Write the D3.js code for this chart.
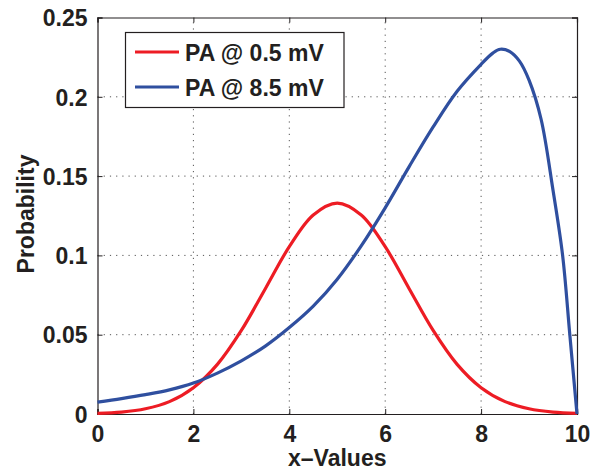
<!DOCTYPE html>
<html>
<head>
<meta charset="utf-8">
<script src="https://cdn.jsdelivr.net/npm/d3@7"></script>
<style>
  body { margin: 0; background: #fff; }
  text { font-family: "Liberation Sans", Arial, Helvetica, sans-serif; font-weight: bold; fill: #231f20; }
</style>
</head>
<body>
<svg id="chart" width="598" height="472"></svg>
<script>
// values
const redX = [0, 0.5, 1, 1.5, 2, 2.5, 3, 3.5, 4, 4.5, 5, 5.5, 6, 6.5, 7, 7.5, 8, 8.5, 9, 9.5, 10];
const redY = [0.0004, 0.0012, 0.0033, 0.0078, 0.0166, 0.0313, 0.0527, 0.079, 0.1055, 0.1255, 0.133,
              0.1255, 0.1055, 0.079, 0.0527, 0.0313, 0.0166, 0.0078, 0.0033, 0.0012, 0.0004];

const blueX = [0, 0.5, 1, 1.5, 2, 2.5, 3, 3.5, 4, 4.5, 5, 5.5, 6, 6.5, 7, 7.5, 8, 8.25, 8.4, 8.6, 8.8, 9, 9.25, 9.5, 9.7, 9.85, 10];
const blueY = [0.0075, 0.0097, 0.0122, 0.0152, 0.0195, 0.0258, 0.0335, 0.0428, 0.0545, 0.068, 0.085, 0.106, 0.13,
               0.156, 0.181, 0.2035, 0.2205, 0.2277, 0.2300, 0.2285, 0.2225, 0.2105, 0.186, 0.141, 0.10, 0.05, 0];

const xTicks = [0, 2, 4, 6, 8, 10];
const yTicks = [0, 0.05, 0.1, 0.15, 0.2, 0.25];
const yTickLabels = ["0", "0.05", "0.1", "0.15", "0.2", "0.25"];
const seriesNames = ["PA @ 0.5 mV", "PA @ 8.5 mV"];
const seriesColors = ["#ed1c24", "#2f4f9f"];

const plotL = 97.5, plotR = 577, plotT = 17.5, plotB = 414;
const svg = d3.select("#chart");

const x = d3.scaleLinear().domain([0, 10]).range([plotL, plotR]);
const y = d3.scaleLinear().domain([0, 0.25]).range([plotB, plotT]);

// grid
const grid = svg.append("g")
  .attr("stroke", "#555")
  .attr("stroke-width", 1)
  .attr("stroke-dasharray", "1.2,5");
grid.selectAll("line.gx").data(xTicks.slice(1, -1))
  .join("line")
  .attr("x1", d => x(d)).attr("x2", d => x(d))
  .attr("y1", plotB).attr("y2", plotT);
grid.selectAll("line.gy").data(yTicks.slice(1, -1))
  .join("line")
  .attr("x1", plotL).attr("x2", plotR)
  .attr("y1", d => y(d)).attr("y2", d => y(d));

// axes, ticks inside on all four sides (box)
const axB = svg.append("g").attr("transform", `translate(0,${plotB})`)
  .call(d3.axisBottom(x).tickValues(xTicks).tickSize(-5).tickPadding(12).tickFormat(d3.format("d")));
const axT = svg.append("g").attr("transform", `translate(0,${plotT})`)
  .call(d3.axisTop(x).tickValues(xTicks).tickSize(-5).tickFormat(""));
const axL = svg.append("g").attr("transform", `translate(${plotL},0)`)
  .call(d3.axisLeft(y).tickValues(yTicks).tickSize(-5).tickPadding(10).tickFormat((d, i) => yTickLabels[i]));
const axR = svg.append("g").attr("transform", `translate(${plotR},0)`)
  .call(d3.axisRight(y).tickValues(yTicks).tickSize(-5).tickFormat(""));

[axB, axT, axL, axR].forEach(a => {
  a.select(".domain").attr("stroke", "#231f20").attr("stroke-width", 1.2);
  a.selectAll(".tick line").attr("stroke", "#231f20").attr("stroke-width", 1);
  a.selectAll("text").style("font-size", "23px").style("font-weight", "bold")
    .attr("fill", "#231f20");
});
axB.selectAll("text").attr("dy", "0.71em");
axL.selectAll("text").attr("dy", "0.36em");

// curves
const line = d3.line().curve(d3.curveCatmullRom.alpha(0.5));
svg.append("path")
  .attr("d", line(redX.map((d, i) => [x(d), y(redY[i])])))
  .attr("fill", "none").attr("stroke", seriesColors[0]).attr("stroke-width", 3.2);
svg.append("path")
  .attr("d", line(blueX.map((d, i) => [x(d), y(blueY[i])])))
  .attr("fill", "none").attr("stroke", seriesColors[1]).attr("stroke-width", 3.2);

// axis labels
svg.append("text")
  .attr("x", (plotL + plotR) / 2).attr("y", 466)
  .attr("text-anchor", "middle")
  .style("font-size", "23px")
  .text("x\u2013Values");
svg.append("text")
  .attr("transform", "translate(34,214) rotate(-90)")
  .attr("text-anchor", "middle")
  .style("font-size", "23px")
  .text("Probability");

// legend
const lg = svg.append("g");
lg.append("rect")
  .attr("x", 125.5).attr("y", 32.5).attr("width", 218.5).attr("height", 75)
  .attr("fill", "#fff").attr("stroke", "#231f20").attr("stroke-width", 1.2);
seriesNames.forEach((name, i) => {
  const cy = 52 + i * 35;
  lg.append("line")
    .attr("x1", 135).attr("x2", 179).attr("y1", cy).attr("y2", cy)
    .attr("stroke", seriesColors[i]).attr("stroke-width", 3.2);
  lg.append("text")
    .attr("x", 185).attr("y", cy + 8.5)
    .style("font-size", "23px")
    .text(name);
});
</script>
</body>
</html>
